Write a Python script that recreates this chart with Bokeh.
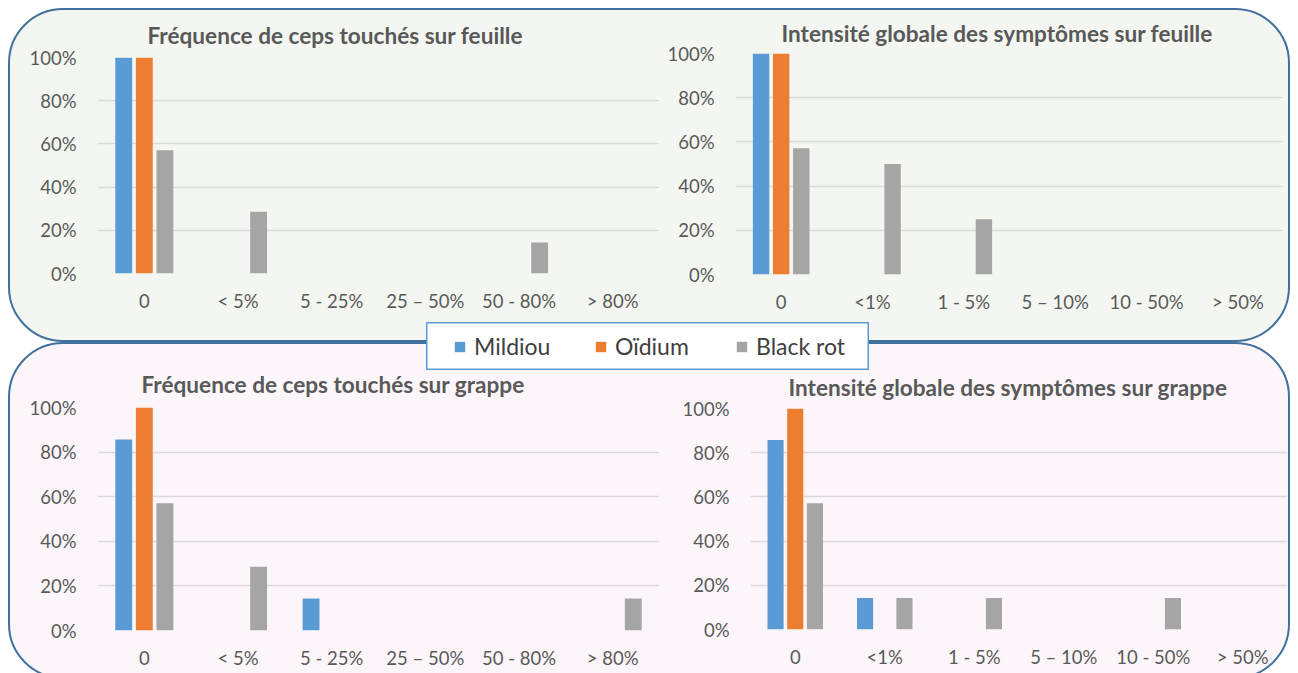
from bokeh.plotting import figure
from bokeh.models import (FactorRange, Range1d, FixedTicker, PrintfTickFormatter,
                          ColumnDataSource, Legend, LegendItem)
from bokeh.transform import dodge
from bokeh.layouts import row, column
from bokeh.embed import file_html
from bokeh.resources import INLINE

# ---------------- data ----------------
cats_freq = ["0", "< 5%", "5 - 25%", "25 – 50%", "50 - 80%", "> 80%"]
cats_int = ["0", "<1%", "1 - 5%", "5 – 10%", "10 - 50%", "> 50%"]

series_names = ["Mildiou", "Oïdium", "Black rot"]
series_colors = ["#5b9bd5", "#ed7d31", "#a5a5a5"]

freq_feuille_mildiou = [100, 0, 0, 0, 0, 0]
freq_feuille_oidium = [100, 0, 0, 0, 0, 0]
freq_feuille_blackrot = [57.1, 28.6, 0, 0, 14.3, 0]

int_feuille_mildiou = [100, 0, 0, 0, 0, 0]
int_feuille_oidium = [100, 0, 0, 0, 0, 0]
int_feuille_blackrot = [57.1, 50, 25, 0, 0, 0]

freq_grappe_mildiou = [85.7, 0, 14.3, 0, 0, 0]
freq_grappe_oidium = [100, 0, 0, 0, 0, 0]
freq_grappe_blackrot = [57.1, 28.6, 0, 0, 0, 14.3]

int_grappe_mildiou = [85.7, 14.3, 0, 0, 0, 0]
int_grappe_oidium = [100, 0, 0, 0, 0, 0]
int_grappe_blackrot = [57.1, 14.3, 14.3, 0, 14.3, 0]

y_ticks = [0, 20, 40, 60, 80, 100]

# ---------------- style ----------------
FONT = "Lato"
TXT = "#595959"
GRID = "#d9d9d9"


def make_chart(title, cats, m, o, b, width, height, bl, br, bt, bb,
               title_offset, title_standoff):
    src = ColumnDataSource(dict(cat=cats, m=m, o=o, b=b))
    p = figure(x_range=FactorRange(factors=cats, range_padding=0),
               y_range=Range1d(0, 100), width=width, height=height,
               min_border_left=bl, min_border_right=br,
               min_border_top=bt, min_border_bottom=bb,
               toolbar_location=None, output_backend="svg",
               background_fill_alpha=0, border_fill_alpha=0,
               outline_line_color=None)
    p.title.text = title
    p.title.align = "left"
    p.title.offset = title_offset
    p.title.standoff = title_standoff
    p.title.text_font = FONT
    p.title.text_font_size = "22.6px"
    p.title.text_font_style = "bold"
    p.title.text_color = TXT

    for col, off, color in zip(["m", "o", "b"], [-0.22, 0.0, 0.22], series_colors):
        p.vbar(x=dodge("cat", off, range=p.x_range), top=col, width=0.18,
               source=src, fill_color=color, line_color=None)

    p.xgrid.visible = False
    p.ygrid.grid_line_color = GRID
    p.ygrid.grid_line_width = 1.5
    p.yaxis.ticker = FixedTicker(ticks=y_ticks)
    p.yaxis.formatter = PrintfTickFormatter(format="%d%%")
    for ax in (p.xaxis, p.yaxis):
        ax.axis_line_color = None
        ax.major_tick_line_color = None
        ax.minor_tick_line_color = None
        ax.major_label_text_font = FONT
        ax.major_label_text_font_size = "18.5px"
        ax.major_label_text_color = TXT
    p.yaxis.major_label_standoff = 15
    p.xaxis.major_label_standoff = 10
    return p


p1 = make_chart("Fréquence de ceps touchés sur feuille", cats_freq,
                freq_feuille_mildiou, freq_feuille_oidium, freq_feuille_blackrot,
                650, 330, 87, 1, 47, 67, 50, 18)
p2 = make_chart("Intensité globale des symptômes sur feuille", cats_int,
                int_feuille_mildiou, int_feuille_oidium, int_feuille_blackrot,
                628, 330, 75, 5, 43, 66, 46, 14)
p3 = make_chart("Fréquence de ceps touchés sur grappe", cats_freq,
                freq_grappe_mildiou, freq_grappe_oidium, freq_grappe_blackrot,
                650, 333, 87, 1, 63, 47, 44, 19)
p4 = make_chart("Intensité globale des symptômes sur grappe", cats_int,
                int_grappe_mildiou, int_grappe_oidium, int_grappe_blackrot,
                628, 333, 90, 1, 64, 48, 38, 15)

# ---------------- legend ----------------
lg = figure(width=443, height=48, min_border=0, x_axis_location=None,
            y_axis_location=None, toolbar_location=None, output_backend="svg",
            x_range=Range1d(0, 1), y_range=Range1d(0, 1),
            outline_line_color="#5b9bd5", outline_line_width=2,
            background_fill_color="white", border_fill_color="white",
            styles={"position": "absolute", "left": "418px", "top": "314px",
                    "z-index": "10"})
lg.grid.visible = False
items = []
for name, color in zip(series_names, series_colors):
    # swatch-only renderers placed outside the visible range
    r = lg.vbar(x=[5], top=[1], width=0.1, fill_color=color, line_color=None)
    items.append(LegendItem(label=name, renderers=[r]))
legend = Legend(items=items, orientation="horizontal", location="left",
                glyph_width=13, glyph_height=13, label_standoff=8, spacing=20,
                label_width=100, padding=0, margin=27, border_line_alpha=0,
                background_fill_alpha=0, label_text_font=FONT,
                label_text_font_size="23px", label_text_color="#404040")
lg.add_layout(legend, "center")

panel_top = {"background-color": "#f4f7f1", "border": "2px solid #41719c",
             "border-radius": "55px", "box-sizing": "border-box",
             "overflow": "hidden"}
panel_bot = dict(panel_top)
panel_bot["background-color"] = "#fcf6fa"

top_row = row(column(p1), column(p2), width=1282, height=334, styles=panel_top)
bot_row = row(column(p3), column(p4), width=1282, height=337, styles=panel_bot)

root = column(top_row, bot_row, lg, width=1282, height=665, margin=(8, 0, 0, 8),
              styles={"position": "relative", "overflow": "hidden"})

open("out.html", "w").write(file_html(root, INLINE))
